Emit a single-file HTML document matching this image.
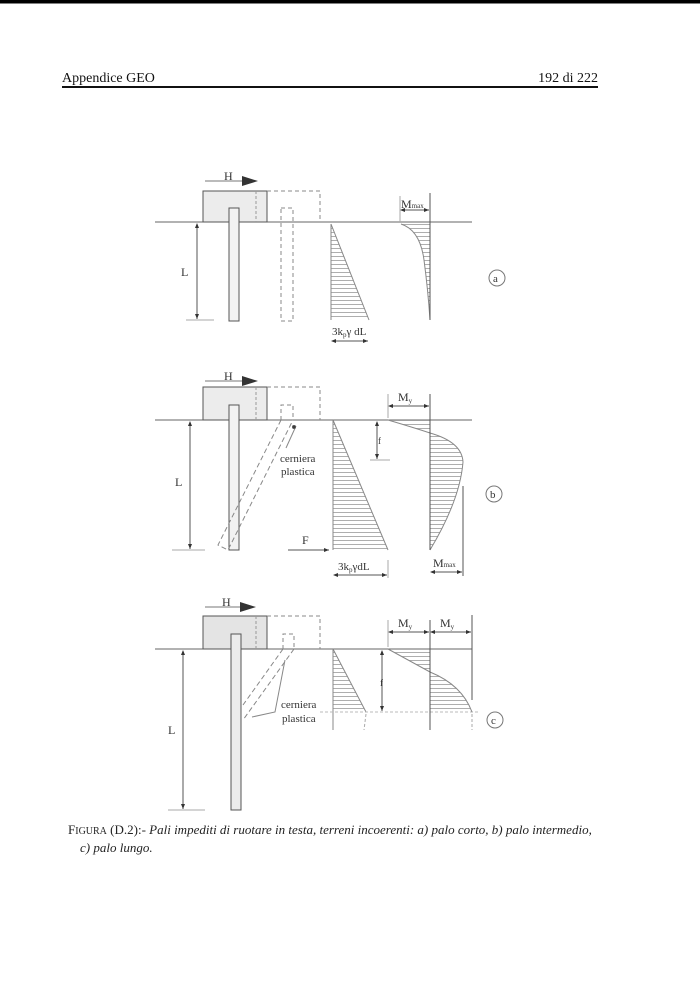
<!DOCTYPE html>
<html><head><meta charset="utf-8"><style>
html,body{margin:0;padding:0;background:#fff;}
body{width:700px;height:993px;overflow:hidden;position:relative;}
svg{position:absolute;left:0;top:0;}
</style></head><body>
<svg width="700" height="993" viewBox="0 0 700 993" xmlns="http://www.w3.org/2000/svg" font-family="Liberation Serif, serif">
<defs>
<pattern id="h" width="4" height="4" patternUnits="userSpaceOnUse"><line x1="0" y1="0.5" x2="4" y2="0.5" stroke="#999" stroke-width="0.8"/></pattern>
<marker id="ar" markerWidth="6" markerHeight="6" refX="5" refY="3" orient="auto"><path d="M0,1 L5,3 L0,5z" fill="#333"/></marker>
<marker id="al" markerWidth="6" markerHeight="6" refX="1" refY="3" orient="auto"><path d="M5,1 L0,3 L5,5z" fill="#333"/></marker>
</defs>
<rect x="0" y="0" width="700" height="3.5" fill="#000"/>
<text x="62" y="82" font-size="14" fill="#111">Appendice GEO</text>
<text x="598" y="82" font-size="14" fill="#111" text-anchor="end">192 di 222</text>
<rect x="62" y="86" width="536" height="2" fill="#111"/>

<g stroke="#555" stroke-width="1" fill="none">
<!-- PANEL A -->
<line x1="155" y1="222" x2="472" y2="222" stroke="#666"/>
<rect x="203" y="191" width="64" height="31" fill="#ececec" stroke="#555"/>
<line x1="256" y1="191" x2="256" y2="222" stroke-dasharray="3,2" stroke="#999"/>
<rect x="229" y="208" width="10" height="113" fill="#f2f2f2"/>
<path d="M267,191 H320 V222" stroke-dasharray="4,3" stroke="#888"/>
<rect x="281" y="208" width="12" height="113" stroke-dasharray="4,3" stroke="#888"/>
<line x1="205" y1="181" x2="245" y2="181" stroke="#777"/>
<line x1="197" y1="224" x2="197" y2="319" marker-start="url(#al)" marker-end="url(#ar)"/>
<line x1="186" y1="320" x2="214" y2="320" stroke="#aaa"/>
<path d="M331,224 L369,320 L331,320Z" fill="url(#h)" stroke="none"/>
<path d="M331,224 L369,320" stroke="#888"/>
<line x1="331" y1="224" x2="331" y2="320" stroke="#888"/>
<line x1="332" y1="341" x2="368" y2="341" marker-start="url(#al)" marker-end="url(#ar)"/>
<path d="M401,224 Q420,230 424,260 Q428,290 430,320 L430,224Z" fill="url(#h)" stroke="none"/>
<path d="M401,224 Q420,230 424,260 Q428,290 430,320" stroke="#888"/>
<line x1="430" y1="193" x2="430" y2="320"/>
<line x1="400" y1="196" x2="400" y2="222" stroke="#aaa"/>
<line x1="401" y1="210" x2="429" y2="210" marker-start="url(#al)" marker-end="url(#ar)"/>
<circle cx="497" cy="278" r="8" stroke="#777"/>

<!-- PANEL B -->
<line x1="155" y1="420" x2="472" y2="420" stroke="#666"/>
<rect x="203" y="387" width="64" height="33" fill="#ececec" stroke="#555"/>
<line x1="256" y1="387" x2="256" y2="420" stroke-dasharray="3,2" stroke="#999"/>
<rect x="229" y="405" width="10" height="145" fill="#f2f2f2"/>
<path d="M267,387 H320 V420" stroke-dasharray="4,3" stroke="#888"/>
<path d="M281,420 V405 H293 V420" stroke-dasharray="4,3" stroke="#888"/>
<path d="M281,420 L218,545 L228,550 L293,420" stroke-dasharray="5,3" stroke="#888"/>
<line x1="205" y1="381" x2="245" y2="381" stroke="#777"/>
<line x1="190" y1="422" x2="190" y2="549" marker-start="url(#al)" marker-end="url(#ar)"/>
<line x1="172" y1="550" x2="205" y2="550" stroke="#aaa"/>
<path d="M296,426 L286,448" stroke="#888"/>
<circle cx="294" cy="427" r="1.5" fill="#333"/>
<path d="M333,420 L388,550 L333,550Z" fill="url(#h)" stroke="none"/>
<path d="M333,420 L388,550" stroke="#888"/>
<line x1="333" y1="420" x2="333" y2="550" stroke="#888"/>
<line x1="288" y1="550" x2="329" y2="550" marker-end="url(#ar)"/>
<line x1="334" y1="575" x2="387" y2="575" marker-start="url(#al)" marker-end="url(#ar)"/>
<line x1="388" y1="560" x2="388" y2="578" stroke="#aaa"/>
<path d="M388,420 Q415,428 430,433 Q462,442 463,462 Q460,500 430,550 L430,433 L430,420Z" fill="url(#h)" stroke="none"/>
<path d="M388,420 Q415,428 430,433 Q462,442 463,462 Q460,500 430,550" stroke="#888"/>
<line x1="430" y1="394" x2="430" y2="550"/>
<line x1="388" y1="394" x2="388" y2="418" stroke="#aaa"/>
<line x1="389" y1="406" x2="429" y2="406" marker-start="url(#al)" marker-end="url(#ar)"/>
<line x1="377" y1="422" x2="377" y2="459" marker-start="url(#al)" marker-end="url(#ar)"/>
<line x1="370" y1="460" x2="390" y2="460" stroke="#aaa"/>
<line x1="463" y1="486" x2="463" y2="576"/>
<line x1="431" y1="572" x2="462" y2="572" marker-start="url(#al)" marker-end="url(#ar)"/>
<circle cx="494" cy="494" r="8" stroke="#777"/>

<!-- PANEL C -->
<line x1="155" y1="649" x2="472" y2="649" stroke="#666"/>
<rect x="203" y="616" width="64" height="33" fill="#e4e4e4" stroke="#555"/>
<line x1="256" y1="616" x2="256" y2="649" stroke-dasharray="3,2" stroke="#999"/>
<rect x="231" y="634" width="10" height="176" fill="#ececec"/>
<path d="M267,616 H320 V649" stroke-dasharray="4,3" stroke="#888"/>
<path d="M283,649 V634 H294 V649" stroke-dasharray="4,3" stroke="#888"/>
<path d="M283,649 L243,705 M294,649 L243,720" stroke-dasharray="5,3" stroke="#888"/>
<path d="M285,660 L275,712 L252,717" stroke="#888"/>
<line x1="205" y1="607" x2="245" y2="607" stroke="#777"/>
<line x1="183" y1="651" x2="183" y2="809" marker-start="url(#al)" marker-end="url(#ar)"/>
<line x1="168" y1="810" x2="205" y2="810" stroke="#aaa"/>
<path d="M333,649 L366,712 L333,712Z" fill="url(#h)" stroke="none"/>
<path d="M333,649 L366,712" stroke="#888"/>
<line x1="333" y1="649" x2="333" y2="730" stroke="#888"/>
<line x1="366" y1="714" x2="364" y2="730" stroke="#aaa" stroke-dasharray="3,2"/>
<line x1="320" y1="712" x2="480" y2="712" stroke="#bbb" stroke-dasharray="3,2"/>
<path d="M388,649 L430,672 Q462,685 472,712 L430,712 L430,649Z" fill="url(#h)" stroke="none"/>
<path d="M388,649 L430,672 Q462,685 472,712" stroke="#888"/>
<line x1="430" y1="620" x2="430" y2="730"/>
<line x1="472" y1="615" x2="472" y2="700"/>
<line x1="388" y1="620" x2="388" y2="647" stroke="#aaa"/>
<line x1="472" y1="714" x2="472" y2="730" stroke="#aaa" stroke-dasharray="3,2"/>
<line x1="389" y1="632" x2="429" y2="632" marker-start="url(#al)" marker-end="url(#ar)"/>
<line x1="431" y1="632" x2="471" y2="632" marker-start="url(#al)" marker-end="url(#ar)"/>
<line x1="382" y1="651" x2="382" y2="711" marker-start="url(#al)" marker-end="url(#ar)"/>
<circle cx="495" cy="720" r="8" stroke="#777"/>
</g>
<path d="M242,176 L258,181 L242,186Z" fill="#333"/>
<path d="M242,376 L258,381 L242,386Z" fill="#333"/>
<path d="M240,602 L256,607 L240,612Z" fill="#333"/>

<g fill="#333" font-size="12">
<text x="224" y="180">H</text>
<text x="224" y="380">H</text>
<text x="222" y="606">H</text>
<text x="181" y="276">L</text>
<text x="175" y="486">L</text>
<text x="168" y="734">L</text>
<text x="332" y="335" font-size="11">3k<tspan font-size="7" dy="2">p</tspan><tspan dy="-2">γ dL</tspan></text>
<text x="401" y="208" font-size="12">M<tspan font-size="7">max</tspan></text>
<text x="493" y="282" font-size="11">a</text>
<text x="280" y="462" font-size="11">cerniera</text>
<text x="281" y="475" font-size="11">plastica</text>
<text x="302" y="544">F</text>
<text x="338" y="570" font-size="11">3k<tspan font-size="7" dy="2">p</tspan><tspan dy="-2">γdL</tspan></text>
<text x="398" y="401" font-size="12">M<tspan font-size="7" dy="2">y</tspan></text>
<text x="378" y="444" font-size="9">f</text>
<text x="433" y="567" font-size="12">M<tspan font-size="7">max</tspan></text>
<text x="490" y="498" font-size="11">b</text>
<text x="281" y="708" font-size="11">cerniera</text>
<text x="282" y="722" font-size="11">plastica</text>
<text x="398" y="627" font-size="12">M<tspan font-size="7" dy="2">y</tspan></text>
<text x="440" y="627" font-size="12">M<tspan font-size="7" dy="2">y</tspan></text>
<text x="380" y="686" font-size="9">f</text>
<text x="491" y="724" font-size="11">c</text>
</g>
<text x="68" y="834" font-size="13" fill="#222">F<tspan font-size="10">IGURA</tspan> (D.2):- <tspan font-style="italic">Pali impediti di ruotare in testa, terreni incoerenti: a) palo corto, b) palo intermedio,</tspan></text>
<text x="80" y="852" font-size="13" fill="#222" font-style="italic">c) palo lungo.</text>
</svg>
</body></html>
